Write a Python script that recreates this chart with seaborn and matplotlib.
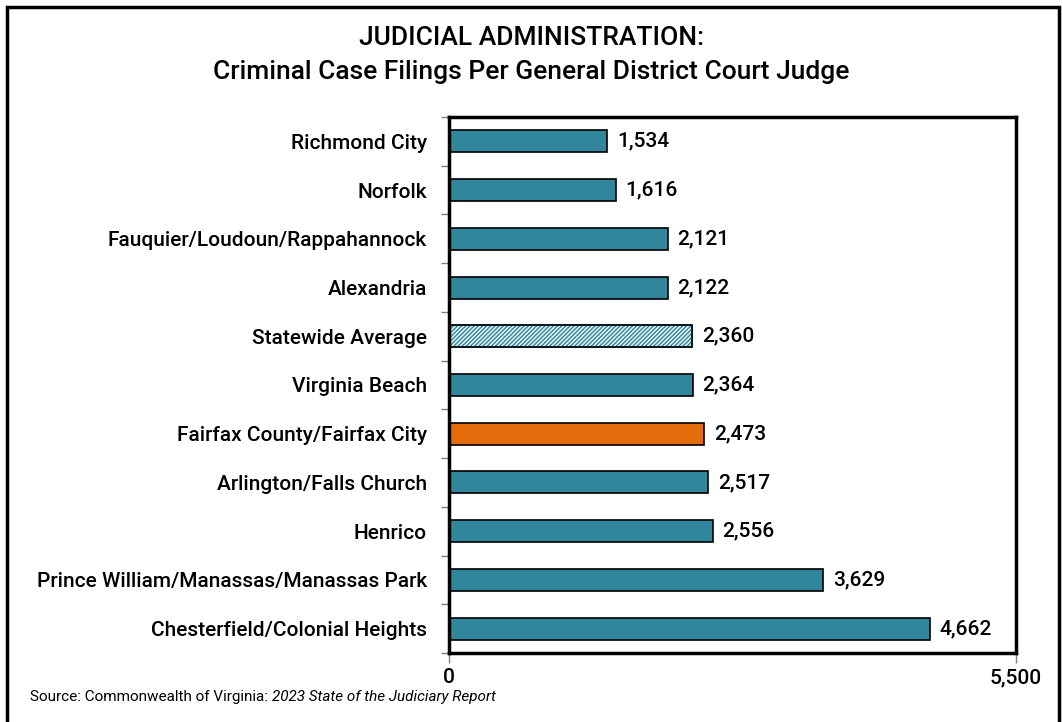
import numpy as np
import pandas as pd
import seaborn as sns
import matplotlib.pyplot as plt
from matplotlib.patches import Rectangle
from matplotlib.ticker import FixedLocator

# data
courts = ['Richmond City', 'Norfolk', 'Fauquier/Loudoun/Rappahannock', 'Alexandria',
          'Statewide Average', 'Virginia Beach', 'Fairfax County/Fairfax City',
          'Arlington/Falls Church', 'Henrico', 'Prince William/Manassas/Manassas Park',
          'Chesterfield/Colonial Heights']
filings = [1534, 1616, 2121, 2122, 2360, 2364, 2473, 2517, 2556, 3629, 4662]
xticks = [0, 5500]

teal = '#31869B'
orange = '#E46C0A'
hatch_bg = '#E4F2F6'

sns.set_theme(style='white')
plt.rcParams['font.family'] = ['Roboto', 'DejaVu Sans']
plt.rcParams['hatch.linewidth'] = 1.0
plt.rcParams['text.color'] = 'black'
plt.rcParams['xtick.labelcolor'] = 'black'
plt.rcParams['ytick.labelcolor'] = 'black'

df = pd.DataFrame({'court': courts, 'filings': filings})

fig = plt.figure(figsize=(10.63, 7.22), dpi=100)
ax = fig.add_axes([449 / 1063, 1 - 653 / 722, 567 / 1063, 536 / 722])

sns.barplot(data=df, x='filings', y='court', orient='h', color=teal,
            width=0.45, edgecolor='black', linewidth=1.2, ax=ax, saturation=1)

for bar, name in zip(ax.patches, courts):
    if name == 'Statewide Average':
        bar.set_facecolor(hatch_bg)
        bar.set_hatch('////////')
        bar.set_edgecolor(teal)
        # black outline drawn on top of the hatch
        ax.add_patch(Rectangle(bar.get_xy(), bar.get_width(), bar.get_height(),
                               fill=False, edgecolor='black', linewidth=1.2))
    elif name.startswith('Fairfax'):
        bar.set_facecolor(orange)

for i, v in enumerate(filings):
    ax.text(v + 95, i, f'{v:,}', va='center', ha='left', fontsize=15,
            fontweight='medium', color='black')

ax.set_xlim(0, 5500)
ax.set_ylim(len(courts) - 0.5, -0.5)
ax.set_xticks(xticks)
ax.set_xticklabels([f'{t:,}' for t in xticks], fontsize=15, fontweight='medium')
ax.set_xlabel('')
ax.set_ylabel('')
ax.tick_params(axis='x', length=7, width=1, color='gray', pad=4, bottom=True,
               labelcolor='black')
ax.tick_params(axis='y', which='major', length=0, pad=16, labelsize=15,
               labelcolor='black')
ax.yaxis.set_minor_locator(FixedLocator(np.arange(-0.5, len(courts), 1)))
ax.tick_params(axis='y', which='minor', length=6, width=1, color='gray', left=True)
for lab in ax.get_yticklabels():
    lab.set_fontweight('medium')

for s in ax.spines.values():
    s.set_visible(True)
    s.set_color('black')
    s.set_linewidth(2.5)

fig.text(0.5, 1 - 38 / 722, 'JUDICIAL ADMINISTRATION:', ha='center', va='center',
         fontsize=19, fontweight='medium', color='black')
fig.text(0.5, 1 - 72 / 722, 'Criminal Case Filings Per General District Court Judge',
         ha='center', va='center', fontsize=19, fontweight='medium', color='black')

src = fig.text(30 / 1063, 1 - 697 / 722, 'Source: Commonwealth of Virginia: ', ha='left',
               va='center', fontsize=11, color='black')
fig.canvas.draw()
bb = src.get_window_extent()
fig.text(bb.x1 / fig.bbox.width, 1 - 697 / 722, '2023 State of the Judiciary Report',
         ha='left', va='center', fontsize=11, style='italic', color='black')

fig.patches.append(Rectangle((7 / 1063, -0.02), 1052 / 1063, 1.02 - 7 / 722,
                             transform=fig.transFigure, fill=False,
                             edgecolor='black', linewidth=2.5))

fig.savefig('out.png', dpi=100)
